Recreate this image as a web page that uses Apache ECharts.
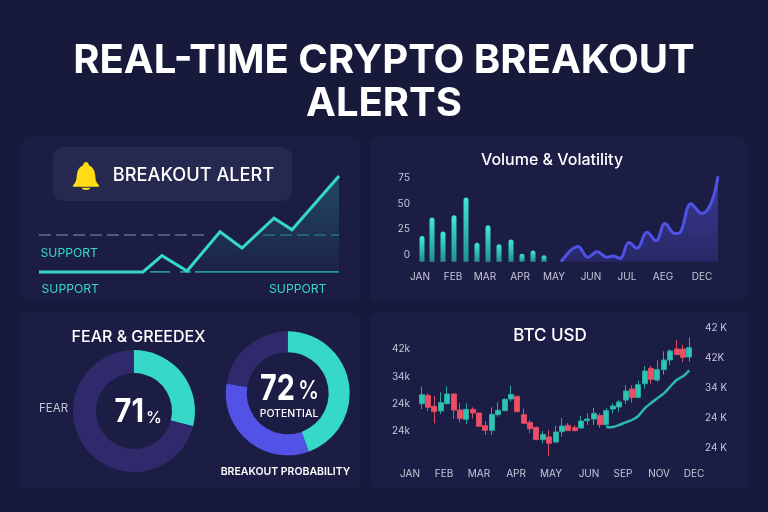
<!DOCTYPE html>
<html><head><meta charset="utf-8">
<style>html,body{margin:0;padding:0;background:#181a3c}#c{width:768px;height:512px}</style>
<script src="https://cdn.jsdelivr.net/npm/echarts@6/dist/echarts.min.js"></script>
</head><body><div id="c"></div>
<script>
// ---- alert chart
const alertX = [0,104,123,148,181,203,235,253,300];
const alertY = [0,0,17,1,42,25,56,44,100];
const supportLevel = 38.5;
// ---- volume & volatility
const volBarX = [8,18,29,40,52,63,74,85,97,108,119,130];
const volBarHeights = [25,43,29.5,45.1,62.5,18.5,35.5,16.9,21.5,7.8,11,6.2];
const volLineX = [147,164,174,183,193,199,206,215,223,233,242,251,261,266,277,288,297,304];
const volLineValues = [-6.5,8.2,-2.2,3.3,-2.2,-0.9,-3.2,12.1,6.5,22.1,14,30.6,20.9,21.9,49.9,40.5,50.2,76.6];
const volMonths = ['JAN','FEB','MAR','APR','MAY','JUN','JUL','AEG','DEC'];
const volMonthX = [6,39,71,106,140,177,213,249,288];
const volTicks = [0,25,50,75];
// ---- BTC candles: [open, close, low, high]
const btcCandles = [
[25700,28400,24100,30800],[28200,24600,23500,28800],[24900,23300,19800,28000],[23500,26000,22600,29100],
[25700,28600,25500,30900],[28600,23800,21100,28800],[23800,21200,20100,25800],[21000,24000,19600,25800],
[24000,22900,21300,24600],[22900,18900,18800,22900],[19100,17700,16300,20500],[17700,22500,16300,24600],
[22400,23700,21800,26100],[23600,27000,23500,27300],[27100,28500,26300,31100],[27900,23300,23100,28100],
[22400,19800,19600,24300],[20100,18200,16900,20700],[18600,14900,14800,18800],[14900,16500,13800,17500],
[15700,13800,10100,17800],[14200,17200,13800,19000],[17300,19000,15800,21400],[19200,17600,17500,19900],
[18500,17600,17400,19300],[18400,20500,18300,22100],[20600,21100,19300,22800],[21100,22800,19300,24400],
[22200,19400,18400,22800],[19400,23600,18600,24300],[24100,25000,22800,25800],[24700,26200,23300,26800],
[26800,29500,25600,31200],[30100,27500,26000,31200],[27600,31400,27300,32600],[31700,35500,30200,37000],
[36300,33000,31700,37000],[32800,35900,32300,38700],[35900,38800,34400,41400],[38800,41500,37300,42000],
[42100,40400,40300,44800],[42100,39600,38200,43300],[39700,42500,38300,45600]];
const btcTrendStart = 29;
const btcTrend = [18600,18700,19300,20100,20800,22000,24300,25900,27300,28800,30800,32800,33900,35700];
const btcLeftLabels = ['24k','24k','34k','42k'];
const btcRightLabels = ['24 K','24 K','34 K','42K','42 K'];
const btcMonths = ['JAN','FEB','MAR','APR','MAY','JUN','SEP','NOV','DEC'];
const btcMonthX = [10,44,79,116,151,189,223,259,294];
// ---- donuts
const fearValues = [29,71];
const breakoutValues = [44.5,33,22.5];

const F = 'Inter, "Noto Sans", sans-serif';
const TEAL='#36d8c8', BLUE='#5352e6', DARK='#2e2a6b', LABEL='#c4c7d8', PANEL='#1b1d44', GREEN='#2fc4b2', RED='#ee4d66';
const panel=(x,y,w,h)=>({type:'rect',z:0,shape:{x,y,width:w,height:h,r:10},style:{fill:PANEL}});
const txt=(text,x,y,size,weight,fill,align,scaleX)=>({type:'text',z:10,originX:x,originY:y,scaleX:scaleX||1,style:{text,x,y,fill:fill||'#fff',
  font:`${weight||500} ${size}px ${F}`,textAlign:align||'center',textVerticalAlign:'middle',verticalAlign:'middle'}});
const hiddenX=(gridIndex,min,max)=>({type:'value',gridIndex,min,max,show:false});
const zip=(a,b)=>a.map((v,i)=>[v,b[i]]);
const lookup=(arr,keys)=>v=>{const i=keys.indexOf(v);return i<0?'':arr[i];};

const chart = echarts.init(document.getElementById('c'),null,{renderer:'canvas'});
chart.setOption({
  animation:false,
  backgroundColor:'#181a3c',
  graphic:{elements:[
    panel(20,137,341,165),panel(370,137,378,165),panel(20,312,341,177),panel(370,312,378,177),
    {type:'rect',z:1,shape:{x:53,y:147,width:239,height:54,r:10},style:{fill:'#25284f'}},
    {type:'polygon',z:2,shape:{points:[[86,162],[88,162.700],[89.200,165.500],[92,167.300],[94.200,170.500],[95.200,175],[95.700,180],[97,183],[99,185.300],[99,186.800],[73,186.800],[73,185.300],[75,183],[76.300,180],[76.800,175],[77.800,170.500],[80,167.300],[82.800,165.500],[84,162.700]]},style:{fill:'#ffdc14'}},
    {type:'polygon',z:2,shape:{points:[[81.500,187.700],[90.500,187.700],[89,189.500],[86,190],[83,189.500]]},style:{fill:'#ffdc14'}},
    txt('REAL-TIME CRYPTO BREAKOUT',384,61,40,700),
    txt('ALERTS',384,104,40,700),
    txt('BREAKOUT ALERT',193.500,176,18.200,500),
    txt('SUPPORT',40.500,253,12.200,400,TEAL,'left'),
    txt('SUPPORT',41.500,289,12.200,400,TEAL,'left'),
    txt('SUPPORT',269,289,12.200,400,TEAL,'left'),
    txt('Volume & Volatility',552,160.500,16,500),
    txt('BTC USD',550,336,17,500),
    txt('FEAR & GREEDEX',138.500,337,16,500),
    txt('FEAR',39,409,11.500,400,LABEL,'left'),
    txt('71',144,412,33,700,'#fff','right',0.88),
    txt('%',146,418.500,16,500,'#fff','left'),
    txt('72',295,389.500,36,700,'#fff','right',0.8),
    txt('%',298,391.500,26,500,'#fff','left',0.82),
    txt('POTENTIAL',289,413.500,10.500,500),
    txt('BREAKOUT PROBABILITY',285.500,472,10.500,600)
  ]},
  grid:[
    {left:39,top:176,width:300,height:96},
    {left:414,top:172.800,width:306,height:88.900},
    {left:418.500,top:310,width:274,height:166.670},
    {left:414,top:349.300,width:10,height:81.700},
    {left:400,top:328.300,width:300,height:119.400}
  ],
  xAxis:[
    hiddenX(0,0,300),
    {type:'value',gridIndex:1,min:0,max:306,axisLine:{show:false},axisTick:{show:false},splitLine:{show:false},
     axisLabel:{customValues:volMonthX,formatter:lookup(volMonths,volMonthX),color:LABEL,fontFamily:F,fontSize:10,margin:10}},
    {type:'category',gridIndex:2,data:btcCandles.map((d,i)=>i),show:false},
    hiddenX(3,0,1),
    {type:'value',gridIndex:4,min:0,max:300,axisLine:{show:false},axisTick:{show:false},splitLine:{show:false},
     axisLabel:{customValues:btcMonthX,formatter:lookup(btcMonths,btcMonthX),color:LABEL,fontFamily:F,fontSize:10,margin:21}}
  ],
  yAxis:[
    {type:'value',gridIndex:0,min:0,max:100,show:false},
    {type:'value',gridIndex:1,min:-6.500,max:80,axisLine:{show:false},axisTick:{show:false},splitLine:{show:false},
     axisLabel:{customValues:volTicks,color:LABEL,fontFamily:F,fontSize:10,margin:4}},
    {type:'value',gridIndex:2,min:3800,max:53800,show:false},
    {type:'value',gridIndex:3,min:0,max:3,interval:1,axisLine:{show:false},axisTick:{show:false},splitLine:{show:false},
     axisLabel:{formatter:v=>btcLeftLabels[v],color:LABEL,fontFamily:F,fontSize:10,margin:4}},
    {type:'value',gridIndex:4,min:0,max:4,interval:1,position:'right',axisLine:{show:false},axisTick:{show:false},splitLine:{show:false},
     axisLabel:{formatter:v=>btcRightLabels[v],color:LABEL,fontFamily:F,fontSize:10,margin:5}},
    {type:'value',gridIndex:1,min:0,max:86.500,show:false}
  ],
  series:[
    {type:'line',name:'Breakout area',xAxisIndex:0,yAxisIndex:0,data:zip(alertX,alertY).slice(3),symbol:'none',z:2,
     lineStyle:{width:0},areaStyle:{color:new echarts.graphic.LinearGradient(0,0,0,1,[{offset:0,color:'rgba(54,216,200,0.34)'},{offset:1,color:'rgba(54,216,200,0.03)'}])}},
    {type:'line',name:'Resistance L',xAxisIndex:0,yAxisIndex:0,data:[[0,supportLevel],[169,supportLevel]],symbol:'none',z:3,lineStyle:{color:'#8f93a8',width:1,type:[12,5]}},
    {type:'line',name:'Resistance R',xAxisIndex:0,yAxisIndex:0,data:[[224,supportLevel],[300,supportLevel]],symbol:'none',z:3,lineStyle:{color:'#2f9595',width:1,type:[12,5]}},
    {type:'line',name:'Support dashed',xAxisIndex:0,yAxisIndex:0,data:[[111,0],[152,0]],symbol:'none',z:3,lineStyle:{color:'#2fbfb3',width:1.500,type:[20,10]}},
    {type:'line',name:'Support solid',xAxisIndex:0,yAxisIndex:0,data:[[156,0],[300,0]],symbol:'none',z:3,lineStyle:{color:'#2fbfb3',width:1.500}},
    {type:'line',name:'Price',xAxisIndex:0,yAxisIndex:0,data:zip(alertX,alertY),symbol:'none',clip:false,z:4,lineStyle:{color:TEAL,width:3,join:'miter'}},

    {type:'bar',name:'Volume',xAxisIndex:1,yAxisIndex:5,data:zip(volBarX,volBarHeights),barWidth:5,
     itemStyle:{borderRadius:[2.500,2.500,0,0],color:new echarts.graphic.LinearGradient(0,0,0,1,[{offset:0,color:'#3fe8d6'},{offset:1,color:'#22908f'}])}},
    {type:'line',name:'Volatility',xAxisIndex:1,yAxisIndex:1,data:zip(volLineX,volLineValues),smooth:0.400,symbol:'none',clip:false,
     lineStyle:{color:'#4f52e6',width:3},
     areaStyle:{origin:'start',color:new echarts.graphic.LinearGradient(0,0,0,1,[{offset:0,color:'#4a47bb'},{offset:1,color:'#2e2c75'}])}},

    {type:'candlestick',name:'BTC',xAxisIndex:2,yAxisIndex:2,data:btcCandles,barWidth:5.500,
     itemStyle:{color:GREEN,color0:RED,borderColor:'#2aa89e',borderColor0:'#d94a63',borderWidth:1}},
    {type:'line',name:'Trend',xAxisIndex:2,yAxisIndex:2,data:btcCandles.map((d,i)=>i<btcTrendStart?null:btcTrend[i-btcTrendStart]),smooth:0.300,symbol:'none',
     lineStyle:{color:'#2cb8ac',width:2.500}},

    {type:'pie',name:'Fear',center:[134,411],radius:[38,61],startAngle:90,silent:true,label:{show:false},labelLine:{show:false},
     data:fearValues.map((v,i)=>({value:v,itemStyle:{color:[TEAL,DARK][i]}}))},
    {type:'pie',name:'Breakout',center:[287.700,393.300],radius:[41,62],startAngle:90,silent:true,label:{show:false},labelLine:{show:false},
     data:breakoutValues.map((v,i)=>({value:v,itemStyle:{color:[TEAL,BLUE,DARK][i]}}))}
  ]
});
</script></body></html>
